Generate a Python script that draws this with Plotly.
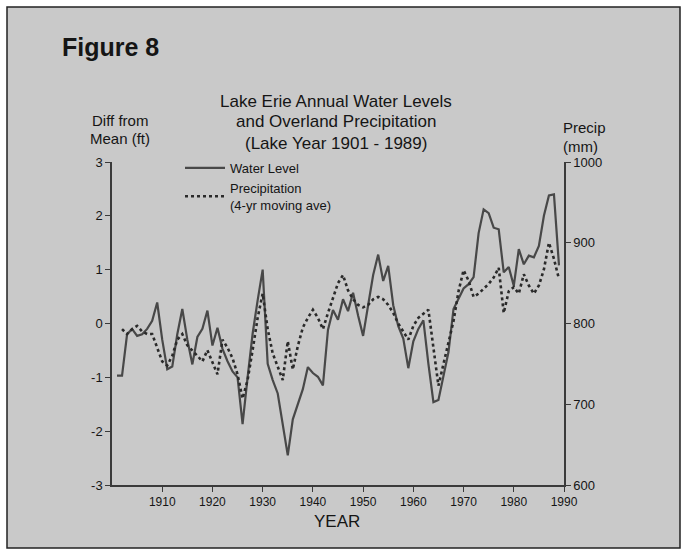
import plotly.graph_objects as go

# ---- data ----
years_level = list(range(1901, 1990))
water_level_ft = [
    -0.97, -0.97, -0.20, -0.10, -0.23, -0.20, -0.10, 0.05, 0.39, -0.30,   # 1901-1910
    -0.85, -0.80, -0.20, 0.27, -0.30, -0.76, -0.25, -0.10, 0.24, -0.41,   # 1911-1920
    -0.08, -0.47, -0.70, -0.89, -1.00, -1.87, -1.00, -0.19, 0.43, 1.00,   # 1921-1930
    -0.75, -1.05, -1.30, -1.90, -2.45, -1.78, -1.50, -1.22, -0.81, -0.92, # 1931-1940
    -0.99, -1.15, -0.12, 0.25, 0.07, 0.45, 0.23, 0.57, 0.15, -0.23,      # 1941-1950
    0.34, 0.90, 1.28, 0.79, 1.07, 0.34, -0.05, -0.28, -0.83, -0.33,      # 1951-1960
    -0.10, 0.06, -0.75, -1.46, -1.42, -0.95, -0.53, 0.27, 0.45, 0.65,    # 1961-1970
    0.73, 0.86, 1.68, 2.12, 2.05, 1.78, 1.75, 0.95, 1.05, 0.70,          # 1971-1980
    1.38, 1.10, 1.26, 1.23, 1.44, 2.00, 2.38, 2.40, 1.08,                # 1981-1989
]

years_precip = list(range(1902, 1990))
precip_mm = [
    793, 787, 793, 797, 790, 787, 787, 770, 753,                          # 1902-1910
    748, 760, 780, 787, 773, 767, 760, 753, 767, 752,                     # 1911-1920
    737, 780, 770, 757, 737, 707, 730, 767, 807, 837,                     # 1921-1930
    793, 763, 747, 730, 778, 743, 772, 795, 807, 817,                     # 1931-1940
    807, 793, 813, 833, 850, 860, 841, 830, 823, 820,                     # 1941-1950
    823, 830, 833, 830, 823, 813, 800, 790, 780, 797,                     # 1951-1960
    807, 812, 817, 770, 723, 750, 777, 803, 840, 866,                     # 1961-1970
    853, 833, 837, 843, 849, 857, 869, 813, 840, 845,                     # 1971-1980
    837, 861, 847, 837, 847, 867, 900, 880, 855,                          # 1981-1989
]

x_ticks = [1910, 1920, 1930, 1940, 1950, 1960, 1970, 1980, 1990]
left_ticks = [-3, -2, -1, 0, 1, 2, 3]
right_ticks = [600, 700, 800, 900, 1000]
mean_level = 0

# ---- layout helpers (pixel -> paper) ----
L, R, T, B = 112, 564, 162, 485
W, H = 686, 555
def px(x):
    return (x - L) / (R - L)
def py(y):
    return (B - y) / (B - T)

BG = "#c9c9c9"
INK = "#151515"
LINE = "#484848"
FONT = "Liberation Sans, Arial, sans-serif"

fig = go.Figure()

fig.add_trace(go.Scatter(
    x=years_level, y=water_level_ft, mode="lines", name="Water Level",
    line=dict(color=LINE, width=2.2), yaxis="y"))

fig.add_trace(go.Scatter(
    x=years_precip, y=precip_mm, mode="lines",
    name="Precipitation<br>(4-yr moving ave)",
    line=dict(color="#2a2a2a", width=2.6, dash="dot"), yaxis="y2"))

fig.add_hline(y=mean_level, line=dict(color="#333333", width=2, dash="46px,7px,9px,7px"),
              layer="below")

fig.update_layout(
    width=W, height=H,
    margin=dict(l=L, r=W - R, t=T, b=H - B),
    paper_bgcolor="white",
    plot_bgcolor="rgba(0,0,0,0)",
    font=dict(family=FONT, color=INK, size=12),
    showlegend=True,
    legend=dict(x=px(180), y=py(153), xanchor="left", yanchor="top",
                bgcolor="rgba(0,0,0,0)", font=dict(size=13, color=INK),
                tracegroupgap=2, itemwidth=40),
    xaxis=dict(range=[1900, 1990], tickvals=x_ticks, ticktext=[str(v) for v in x_ticks],
               showgrid=False, zeroline=False, showline=True, linecolor="#3a3a3a",
               linewidth=1.5, ticks="outside", ticklen=5, tickcolor="#3a3a3a",
               tickfont=dict(size=12, color=INK)),
    yaxis=dict(range=[-3, 3], tickvals=left_ticks, ticktext=[str(v) for v in left_ticks],
               showgrid=False, zeroline=False,
               showline=True, linecolor="#3a3a3a", linewidth=1.5, ticks="outside",
               ticklen=5, tickcolor="#3a3a3a", tickfont=dict(size=13, color=INK)),
    yaxis2=dict(range=[600, 1000], tickvals=right_ticks, overlaying="y", side="right",
                showgrid=False, zeroline=False, showline=True, linecolor="#3a3a3a",
                linewidth=1.5, ticks="outside", ticklen=5, tickcolor="#3a3a3a",
                tickfont=dict(size=13, color=INK)),
)

# panel background and frame
fig.add_shape(type="rect", xref="paper", yref="paper",
              x0=px(7), x1=px(680), y0=py(548), y1=py(7),
              fillcolor=BG, line=dict(color="#222222", width=1.5), layer="below")

def note(text, x, y, size, bold=False, xanchor="center"):
    fig.add_annotation(text=f"<b>{text}</b>" if bold else text,
                       xref="paper", yref="paper", x=px(x), y=py(y),
                       xanchor=xanchor, yanchor="middle", showarrow=False,
                       font=dict(size=size, color=INK, family=FONT))

note("Figure 8", 60, 47, 25, bold=True, xanchor="left")
note("Lake Erie Annual Water Levels", 336, 101, 17)
note("and Overland Precipitation", 336, 122, 17)
note("(Lake Year 1901 - 1989)", 336, 143, 17)
note("Diff from", 120, 120, 15)
note("Mean (ft)", 120, 138, 15)
note("Precip", 584, 128, 15)
note("(mm)", 580, 146, 15)
note("YEAR", 337, 521, 17)

fig.write_html("out.html", config={"displayModeBar": False},
               post_script="document.body.style.margin='0';")
